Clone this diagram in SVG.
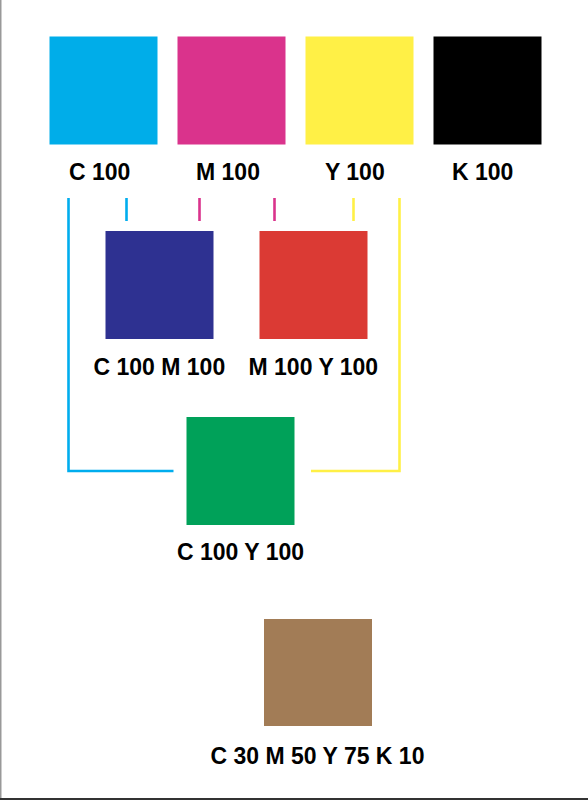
<svg xmlns="http://www.w3.org/2000/svg" width="588" height="800" viewBox="0 0 588 800">
<style>
.lbl{font-family:"Liberation Sans",Arial,sans-serif;font-weight:bold;font-size:23px;fill:#000}
.c{stroke:#00ADEE;stroke-width:2.6;fill:none}
.m{stroke:#DA338C;stroke-width:2.6;fill:none}
.y{stroke:#FFF046;stroke-width:2.6;fill:none}
</style>
<rect x="0" y="0" width="588" height="800" fill="#fff"/>
<line x1="0.75" y1="0" x2="0.75" y2="800" stroke="#999" stroke-width="1.5"/>
<line x1="0" y1="799" x2="588" y2="799" stroke="#333" stroke-width="2"/>
<g id="connectors">
<polyline class="c" points="68.5,198 68.5,471 173.5,471"/>
<polyline class="y" points="399.5,198 399.5,471 311,471"/>
<line class="c" x1="126.5" y1="198" x2="126.5" y2="221"/>
<line class="m" x1="199.5" y1="198" x2="199.5" y2="221"/>
<line class="m" x1="274.5" y1="198" x2="274.5" y2="221"/>
<line class="y" x1="353.5" y1="198" x2="353.5" y2="221"/>
</g>
<g id="cyan"><rect x="49.5" y="36.5" width="108" height="108" fill="#00ADE9"/><text class="lbl" x="69" y="180">C 100</text></g>
<g id="magenta"><rect x="177.5" y="36.5" width="108" height="108" fill="#DA338C"/><text class="lbl" x="196" y="180">M 100</text></g>
<g id="yellow"><rect x="305.5" y="36.5" width="108" height="108" fill="#FFF046"/><text class="lbl" x="325" y="180">Y 100</text></g>
<g id="black"><rect x="433.5" y="36.5" width="108" height="108" fill="#000"/><text class="lbl" x="452" y="180">K 100</text></g>
<g id="blue"><rect x="105.5" y="231" width="108" height="108" fill="#2E3191"/><text class="lbl" x="93.5" y="375">C 100 M 100</text></g>
<g id="red"><rect x="259.5" y="231" width="108" height="108" fill="#DB3A34"/><text class="lbl" x="248.5" y="375">M 100 Y 100</text></g>
<g id="green"><rect x="186.5" y="417" width="108" height="108" fill="#00A159"/><text class="lbl" x="177" y="560">C 100 Y 100</text></g>
<g id="brown"><rect x="264" y="619" width="108" height="107" fill="#A27C56"/><text class="lbl" x="210.5" y="763.5">C 30 M 50 Y 75 K 10</text></g>
</svg>
